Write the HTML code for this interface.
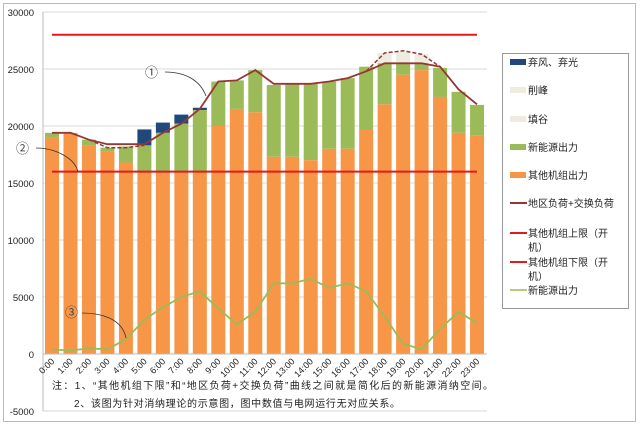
<!DOCTYPE html>
<html><head><meta charset="utf-8"><style>
html,body{margin:0;padding:0;background:#fff;}
svg text{font-family:"Liberation Sans","Noto Sans CJK SC",sans-serif;}
</style></head><body>
<svg id="s" width="640" height="426" xmlns="http://www.w3.org/2000/svg">
<rect x="3.5" y="3.5" width="632" height="418" fill="#fff" stroke="#bbb"/>
<g id="g"></g>
<rect x="502.5" y="53.5" width="126" height="255" fill="#fff" stroke="#999"/>
<g font-size="10" fill="#222">
<rect x="510" y="59" width="16" height="6" fill="#1f497d"/><text x="528" y="66">弃风、弃光</text>
<rect x="510" y="87" width="16" height="6" fill="#eeece1"/><text x="528" y="94">削峰</text>
<rect x="510" y="116" width="16" height="6" fill="#eeece1"/><text x="528" y="123">填谷</text>
<rect x="510" y="144" width="16" height="6" fill="#9bbb59"/><text x="528" y="151">新能源出力</text>
<rect x="510" y="172" width="16" height="6" fill="#f79646"/><text x="528" y="179">其他机组出力</text>
<line x1="510" y1="203" x2="527" y2="203" stroke="#953735" stroke-width="2"/><text x="528" y="207">地区负荷+交换负荷</text>
<line x1="510" y1="233" x2="527" y2="233" stroke="#e31a1c" stroke-width="2"/><text x="528" y="237">其他机组上限（开</text><text x="528" y="251">机）</text>
<line x1="510" y1="262" x2="527" y2="262" stroke="#e31a1c" stroke-width="2"/><text x="528" y="266">其他机组下限（开</text><text x="528" y="280">机）</text>
<line x1="510" y1="290" x2="527" y2="290" stroke="#9bbb59" stroke-width="1.5"/><text x="528" y="294">新能源出力</text>
</g>
<g font-size="10" fill="#222">
<text x="52" y="389" textLength="441" lengthAdjust="spacing">注：1、“其他机组下限”和“地区负荷+交换负荷”曲线之间就是简化后的新能源消纳空间。</text>
<text x="74" y="407" textLength="326" lengthAdjust="spacing">2、该图为针对消纳理论的示意图，图中数值与电网运行无对应关系。</text>
</g>
</svg>
<script>
var g=document.getElementById('g');var h='';
function y(v){return 354-v*0.0114;}
function cx(i){return 52+i*18.48;}
for(var v=-5000;v<=30000;v+=5000){var yy=y(v);
 h+='<line x1="43" x2="487" y1="'+yy+'" y2="'+yy+'" stroke="#d9d9d9"/>';
 h+='<text x="34" y="'+(yy+4)+'" font-size="9.5" text-anchor="end" fill="#222">'+v+'</text>';}
h+='<line x1="43" x2="43" y1="'+y(30000)+'" y2="'+y(-5000)+'" stroke="#bbb"/>';
var O=[19000,19300,18300,17800,16800,16000,16000,16000,16000,20000,21500,21200,17300,17300,17000,18000,18000,19650,21900,24500,24900,22550,19400,19200];
var G=[19400,19400,18800,18100,18200,18300,19400,20200,21400,23900,24000,24900,23600,23700,23700,23900,24200,25200,25500,25500,25500,25100,23000,21850];
var B={5:19700,6:20300,7:21000,8:21600};
var P={18:26400,19:26500,20:26300};
for(var i=0;i<24;i++){var x=cx(i)-7;
 if(P[i])h+='<rect x="'+x+'" y="'+y(P[i])+'" width="14" height="'+(y(G[i])-y(P[i]))+'" fill="#eeece1"/>';
 if(B[i])h+='<rect x="'+x+'" y="'+y(B[i])+'" width="14" height="'+(y(G[i])-y(B[i]))+'" fill="#1f497d"/>';
 h+='<rect x="'+x+'" y="'+y(G[i])+'" width="14" height="'+(y(O[i])-y(G[i]))+'" fill="#9bbb59"/>';
 h+='<rect x="'+x+'" y="'+y(O[i])+'" width="14" height="'+(y(0)-y(O[i]))+'" fill="#f79646"/>';
 h+='<text transform="translate('+(cx(i)+3)+',362) rotate(-45)" font-size="9" text-anchor="end" fill="#222">'+i+':00</text>';}
h+='<line x1="43" x2="487" y1="354" y2="354" stroke="#bbb"/>';
function pl(a,st,w,ex){var p=[];for(var i=0;i<a.length;i++)if(a[i]!=null)p.push(cx(i).toFixed(1)+','+y(a[i]).toFixed(1));return '<polyline points="'+p.join(' ')+'" fill="none" stroke="'+st+'" stroke-width="'+w+'" '+(ex||'')+'/>';}
var L=[19400,19400,18800,18400,18400,18400,19400,20200,21500,23900,24000,24900,23700,23700,23700,23900,24200,24800,25500,25500,25500,25200,23200,21900];
h+=pl([null,null,18800,18100,18100,18300],'#953735',1.5,'stroke-dasharray="4,2"');
h+=pl([null,null,null,null,null,null,null,null,null,null,null,null,null,null,null,null,null,24800,26400,26600,26300,25200],'#953735',1.5,'stroke-dasharray="4,2"');
h+=pl(L,'#953735',1.8);
h+='<line x1="52" x2="477" y1="'+y(28000)+'" y2="'+y(28000)+'" stroke="#e31a1c" stroke-width="2"/>';
h+='<line x1="52" x2="477" y1="'+y(16000)+'" y2="'+y(16000)+'" stroke="#e31a1c" stroke-width="2"/>';
var N=[400,300,500,400,1300,3000,4100,5000,5500,4000,2600,3700,6200,6200,6600,5800,6200,5500,3300,900,400,2200,3700,2700];
h+=pl(N,'#9bbb59',1.8);
h+='<text x="145" y="77" font-size="13" fill="#444">①</text><path d="M165,72 C185,72 200,80 206,96" fill="none" stroke="#333" stroke-width="0.8"/>';
h+='<text x="16" y="153" font-size="13" fill="#444">②</text><path d="M36,148 C55,148 75,158 78,172" fill="none" stroke="#333" stroke-width="0.8"/>';
h+='<text x="65" y="317" font-size="13" fill="#444">③</text><path d="M82,313 C100,313 122,318 126,338" fill="none" stroke="#333" stroke-width="0.8"/>';
g.innerHTML=h;
</script>
</body></html>
